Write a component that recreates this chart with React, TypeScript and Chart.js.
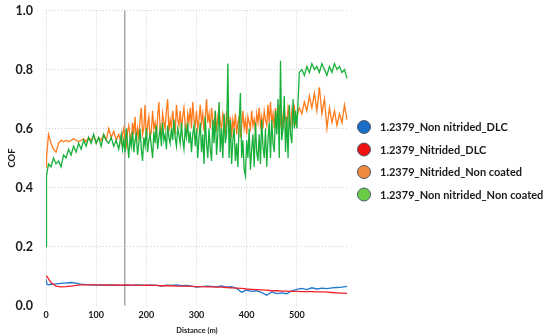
import React, { useEffect, useRef } from "react";
import { Chart, registerables } from "chart.js";

Chart.register(...registerables);

// Distances (m) for the noisy uncoated series
const distNoisy = [
  0, 1, 5, 10, 15, 20, 25, 30, 35, 40, 45, 50, 55, 60, 65, 70, 75, 80, 85, 90, 95,
  100, 105, 110, 115, 120, 125, 130, 135, 140, 145,
  150, 152.5, 155, 157.5, 160, 162.5, 165, 167.5, 170, 172.5,
  175, 177.5, 180, 182.5, 185, 187.5, 190, 192.5, 195, 197.5,
  200, 202.5, 205, 207.5, 210, 212.5, 215, 217.5, 220, 222.5,
  225, 227.5, 230, 232.5, 235, 237.5, 240, 242.5, 245, 247.5,
  250, 252.5, 255, 257.5, 260, 262.5, 265, 267.5, 270, 272.5,
  275, 277.5, 280, 282.5, 285, 287.5, 290, 292.5, 295, 297.5,
  300, 302.5, 305, 307.5, 310, 312.5, 315, 317.5, 320, 322.5,
  325, 327.5, 330, 332.5, 335, 337.5, 340, 342.5, 345, 347.5,
  350, 352.5, 355, 357.5, 360, 362.5, 365, 367.5, 370, 372.5,
  375, 377.5, 380, 382.5, 385, 387.5, 390, 392.5, 395, 397.5,
  400, 402.5, 405, 407.5, 410, 412.5, 415, 417.5, 420, 422.5,
  425, 427.5, 430, 432.5, 435, 437.5, 440, 442.5, 445, 447.5,
  450, 452.5, 455, 457.5, 460, 462.5, 465, 467.5, 470, 472.5,
  475, 477.5, 480, 482.5, 485, 487.5, 490, 492.5, 495, 497.5,
  500, 505, 510, 515, 520, 525, 530, 535, 540, 545, 550, 555, 560, 565, 570, 575, 580, 585, 590, 595, 600,
];

const nitridedNonCoated = [
  0.47, 0.5, 0.58, 0.55, 0.53, 0.52, 0.55, 0.56, 0.555, 0.56, 0.555, 0.56, 0.565, 0.56, 0.555, 0.56, 0.565, 0.555, 0.57, 0.56, 0.575,
  0.55, 0.57, 0.56, 0.58, 0.56, 0.6, 0.57, 0.59, 0.56, 0.58,
  0.55, 0.58, 0.6, 0.56, 0.54, 0.59, 0.61, 0.57, 0.56, 0.62,
  0.58, 0.64, 0.55, 0.6, 0.57, 0.63, 0.67, 0.58, 0.6, 0.68,
  0.56, 0.61, 0.64, 0.57, 0.59, 0.66, 0.6, 0.62, 0.57, 0.64,
  0.69, 0.6, 0.58, 0.65, 0.62, 0.6, 0.66, 0.7, 0.59, 0.63,
  0.6, 0.66, 0.62, 0.58, 0.68, 0.63, 0.61, 0.66, 0.6, 0.64,
  0.67, 0.61, 0.59, 0.65, 0.62, 0.67, 0.6, 0.69, 0.63, 0.61,
  0.66, 0.6, 0.63, 0.68, 0.62, 0.65, 0.59, 0.64, 0.7, 0.62,
  0.65, 0.6, 0.67, 0.63, 0.61, 0.66, 0.59, 0.64, 0.67, 0.62,
  0.6, 0.65, 0.63, 0.58, 0.66, 0.62, 0.6, 0.64, 0.57, 0.63,
  0.6, 0.65, 0.58, 0.62, 0.64, 0.57, 0.61, 0.66, 0.6, 0.63,
  0.58, 0.64, 0.62, 0.6, 0.66, 0.61, 0.63, 0.59, 0.65, 0.62,
  0.67, 0.61, 0.64, 0.6, 0.66, 0.63, 0.61, 0.68, 0.62, 0.69,
  0.62, 0.65, 0.6, 0.67, 0.63, 0.61, 0.68, 0.62, 0.65, 0.6,
  0.66, 0.63, 0.61, 0.67, 0.64, 0.6, 0.66, 0.63, 0.68, 0.62,
  0.64, 0.67, 0.65, 0.69, 0.66, 0.71, 0.67, 0.72, 0.66, 0.74, 0.65, 0.7, 0.6, 0.67, 0.62, 0.66, 0.61, 0.65, 0.62, 0.68, 0.63,
];

const nonNitridedNonCoated = [
  0.2, 0.44, 0.48, 0.47, 0.5, 0.48, 0.49, 0.47, 0.51, 0.5, 0.53, 0.51, 0.54, 0.52, 0.55, 0.53, 0.56, 0.54, 0.57, 0.55, 0.58,
  0.55, 0.57, 0.54, 0.58, 0.56, 0.55, 0.57, 0.54, 0.56, 0.53,
  0.58, 0.53, 0.56, 0.52, 0.6, 0.55, 0.5, 0.57, 0.54, 0.59,
  0.52, 0.56, 0.58, 0.51, 0.55, 0.6, 0.53, 0.49, 0.57, 0.54,
  0.6, 0.52, 0.56, 0.58, 0.54, 0.5, 0.59, 0.55, 0.61, 0.53,
  0.57, 0.6, 0.54, 0.62, 0.56, 0.58, 0.53, 0.61, 0.57, 0.55,
  0.6, 0.56, 0.63, 0.57, 0.54, 0.6, 0.58, 0.55, 0.62, 0.56,
  0.53, 0.6, 0.57, 0.62, 0.55, 0.59, 0.52, 0.58, 0.61, 0.54,
  0.6, 0.5, 0.57, 0.62, 0.52, 0.58, 0.48, 0.64, 0.55, 0.5,
  0.6, 0.53, 0.49, 0.63, 0.55, 0.66, 0.51, 0.58, 0.69, 0.52,
  0.6, 0.5, 0.65, 0.55, 0.58, 0.82, 0.5, 0.63, 0.48, 0.56,
  0.6, 0.49, 0.55, 0.47, 0.62, 0.72, 0.5, 0.56, 0.46, 0.44,
  0.56, 0.5, 0.6, 0.46, 0.53, 0.58, 0.47, 0.62, 0.52, 0.49,
  0.58, 0.48, 0.63, 0.54, 0.5, 0.6, 0.47, 0.56, 0.62, 0.5,
  0.63, 0.55, 0.52, 0.66, 0.58, 0.7, 0.5, 0.83, 0.56, 0.6,
  0.71, 0.52, 0.64, 0.5, 0.68, 0.58, 0.55, 0.7, 0.6, 0.66,
  0.6, 0.79, 0.8, 0.78, 0.81, 0.79, 0.82, 0.8, 0.81, 0.79, 0.82, 0.8, 0.78, 0.81, 0.79, 0.82, 0.8, 0.81, 0.79, 0.8, 0.77,
];

// Distances (m) for the DLC-coated series
const distDlc = [
  0, 2, 5, 10, 20, 30, 40, 50, 60, 70, 80, 90, 100, 110, 120, 130, 140, 150, 160, 170, 180, 190,
  200, 210, 220, 230, 240, 250, 260, 270, 280, 290, 300, 310, 320, 330, 340, 350, 360, 370, 380, 390,
  400, 410, 420, 430, 440, 450, 460, 470, 480, 490, 500, 510, 520, 530, 540, 550, 560, 570, 580, 590, 600,
];

const nonNitridedDlc = [
  0.09, 0.072, 0.07, 0.072, 0.073, 0.075, 0.077, 0.078, 0.076, 0.072, 0.071, 0.07, 0.069, 0.07, 0.069, 0.07, 0.069, 0.068, 0.069, 0.068, 0.07, 0.069,
  0.068, 0.07, 0.068, 0.066, 0.069, 0.068, 0.07, 0.067, 0.068, 0.066, 0.062, 0.064, 0.066, 0.065, 0.063, 0.066, 0.062, 0.064, 0.058, 0.045,
  0.052, 0.048, 0.05, 0.044, 0.035, 0.046, 0.04, 0.043, 0.04, 0.05, 0.055, 0.058, 0.054, 0.06, 0.056, 0.059, 0.057, 0.06, 0.061, 0.062, 0.065,
];

const nitridedDlc = [
  0.1, 0.098, 0.09, 0.078, 0.066, 0.063, 0.064, 0.066, 0.068, 0.07, 0.07, 0.07, 0.07, 0.069, 0.07, 0.069, 0.07, 0.069, 0.07, 0.069, 0.069, 0.068,
  0.069, 0.068, 0.068, 0.067, 0.067, 0.067, 0.066, 0.066, 0.066, 0.065, 0.064, 0.064, 0.063, 0.063, 0.062, 0.062, 0.061, 0.06, 0.059, 0.058,
  0.056, 0.055, 0.054, 0.053, 0.052, 0.05, 0.05, 0.049, 0.049, 0.048, 0.048, 0.047, 0.047, 0.047, 0.046, 0.046, 0.045, 0.044, 0.043, 0.042, 0.041,
];

const seriesLabels = [
  "1.2379_Non nitrided_DLC",
  "1.2379_Nitrided_DLC",
  "1.2379_Nitrided_Non coated",
  "1.2379_Non nitrided_Non coated",
];
const lineColors = ["#1f78d0", "#f0202a", "#ff7a1a", "#18b03a"];
const legendColors = ["#1a6ec8", "#ee1111", "#f08a3c", "#6acc44"];

const xTicks = [0, 100, 200, 300, 400, 500];
const yTicks = [0, 0.2, 0.4, 0.6, 0.8, 1.0];
const markerDistance = 157;

const FONT = "Lato, 'DejaVu Sans', sans-serif";

const toPts = (xs: number[], ys: number[]) => xs.map((x, i) => ({ x, y: ys[i] }));

export default function App() {
  const ref = useRef<HTMLCanvasElement | null>(null);

  useEffect(() => {
    if (!ref.current) return;

    const markerPlugin = {
      id: "marker",
      beforeDatasetsDraw(chart: any) {
        const { ctx, chartArea, scales } = chart;
        const x = scales.x.getPixelForValue(markerDistance);
        ctx.save();
        ctx.strokeStyle = "#a8a8a8";
        ctx.lineWidth = 1.5;
        ctx.beginPath();
        ctx.moveTo(x, chartArea.top);
        ctx.lineTo(x, chartArea.bottom);
        ctx.stroke();
        ctx.restore();
      },
    };

    const legendPlugin = {
      id: "sideLegend",
      afterDraw(chart: any) {
        const { ctx } = chart;
        ctx.save();
        seriesLabels.forEach((lab, i) => {
          const y = 127 + i * 22.5;
          ctx.beginPath();
          ctx.arc(364, y, 6.5, 0, Math.PI * 2);
          ctx.fillStyle = legendColors[i];
          ctx.fill();
          ctx.strokeStyle = "#4a5a6a";
          ctx.lineWidth = 1;
          ctx.stroke();
          ctx.fillStyle = "#1a1a1a";
          ctx.font = `bold 11px ${FONT}`;
          ctx.textBaseline = "middle";
          ctx.textAlign = "left";
          ctx.fillText(lab, 380, y + 0.5);
        });
        ctx.restore();
      },
    };

    const chart = new Chart(ref.current, {
      type: "line",
      data: {
        datasets: [
          { label: seriesLabels[0], data: toPts(distDlc, nonNitridedDlc), borderColor: lineColors[0], order: 1 },
          { label: seriesLabels[1], data: toPts(distDlc, nitridedDlc), borderColor: lineColors[1], order: 0 },
          { label: seriesLabels[2], data: toPts(distNoisy, nitridedNonCoated), borderColor: lineColors[2], order: 3 },
          { label: seriesLabels[3], data: toPts(distNoisy, nonNitridedNonCoated), borderColor: lineColors[3], order: 2 },
        ].map((d) => ({ ...d, borderWidth: 1.3, pointRadius: 0, tension: 0, fill: false })),
      },
      options: {
        animation: false,
        responsive: false,
        layout: { padding: { top: 10.5, right: 202, left: 0, bottom: 0 } },
        plugins: { legend: { display: false }, tooltip: { enabled: false } },
        scales: {
          x: {
            type: "linear",
            min: 0,
            max: 602,
            afterBuildTicks: (s: any) => {
              s.ticks = xTicks.map((v) => ({ value: v }));
            },
            afterFit: (s: any) => {
              s.height = 29.5;
              s.paddingLeft = 0;
              s.paddingRight = 0;
            },
            grid: { color: "#cfcfcf", lineWidth: 1, drawTicks: false },
            border: { display: false, dash: [1, 2] },
            ticks: { color: "#1a1a1a", font: { family: FONT, size: 9, weight: "bold" }, padding: 4, maxRotation: 0 },
            title: {
              display: true,
              text: "Distance (m)",
              color: "#1a1a1a",
              font: { family: FONT, size: 7.5, weight: "bold" },
              padding: { top: 1, bottom: 0 },
            },
          },
          y: {
            min: 0,
            max: 1,
            afterBuildTicks: (s: any) => {
              s.ticks = yTicks.map((v) => ({ value: v }));
            },
            afterFit: (s: any) => {
              s.width = 46;
              s.paddingTop = 0;
              s.paddingBottom = 0;
            },
            grid: {
              color: (c: any) => (c.tick && c.tick.value === 0 ? "rgba(0,0,0,0)" : "#cfcfcf"),
              lineWidth: 1,
              drawTicks: false,
            },
            border: { display: false, dash: [1, 2] },
            ticks: {
              color: "#1a1a1a",
              font: { family: FONT, size: 12.5, weight: "bold" },
              padding: 13,
              callback: (v: any) => Number(v).toFixed(1),
            },
            title: {
              display: true,
              text: "COF",
              color: "#1a1a1a",
              font: { family: FONT, size: 9.5, weight: "bold" },
              padding: { top: 6, bottom: 0 },
            },
          },
        },
      },
      plugins: [markerPlugin, legendPlugin],
    } as any);

    return () => chart.destroy();
  }, []);

  return (
    <div style={{ position: "absolute", left: 0, top: 0, width: 550, height: 335, background: "#fff" }}>
      <canvas ref={ref} width={550} height={335} />
    </div>
  );
}
